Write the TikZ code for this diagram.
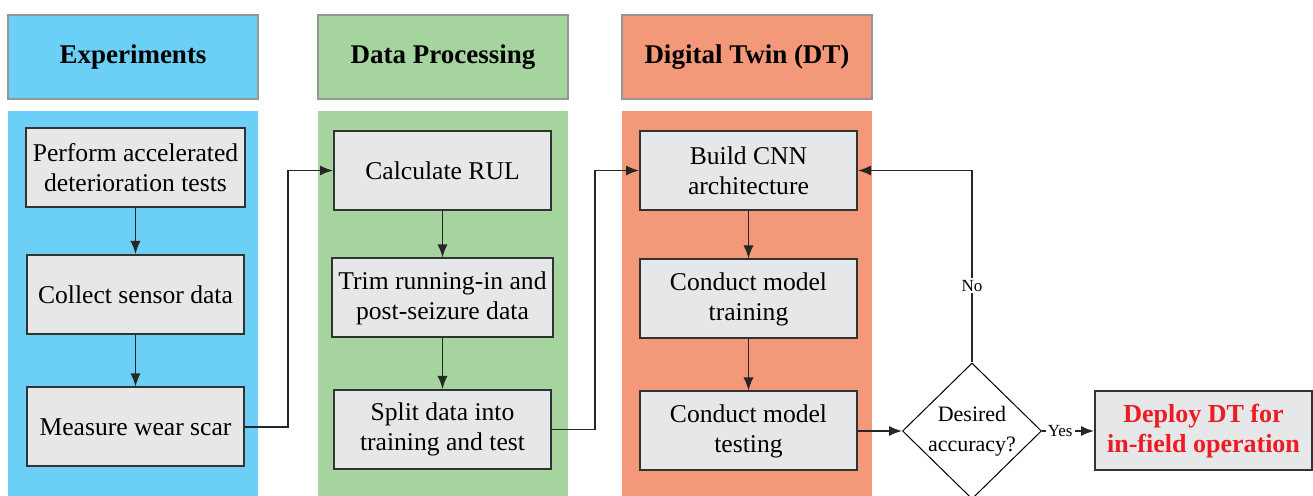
\documentclass[tikz,border=0pt]{standalone}
\usepackage{fontspec}
\setmainfont{Liberation Serif}
\usetikzlibrary{shapes.geometric,arrows.meta}
\definecolor{expblue}{RGB}{108,207,246}
\definecolor{procgreen}{RGB}{166,212,159}
\definecolor{twinsalmon}{RGB}{244,152,122}
\definecolor{boxgray}{RGB}{230,231,232}
\definecolor{headgray}{RGB}{150,150,150}
\definecolor{boxedge}{RGB}{50,50,50}
\definecolor{deployred}{RGB}{237,28,36}
\begin{document}
\begin{tikzpicture}[x=0.5pt,y=-0.5pt,
    head/.style={draw=headgray,line width=1pt,minimum width=125pt,minimum height=42pt,
      font=\fontsize{13.5}{16}\selectfont\bfseries},
    task/.style={draw=boxedge,fill=boxgray,line width=1pt,minimum width=108.5pt,
      minimum height=39.5pt,align=center,font=\fontsize{12.8}{15}\selectfont},
    flow/.style={-{Latex[length=6.5pt,width=5pt]},line width=0.7pt,draw=black!85},
    tag/.style={fill=white,inner sep=1pt,font=\fontsize{8.5}{10}\selectfont}]
  \useasboundingbox (0,0) rectangle (1313,496);
  % column backgrounds
  \fill[expblue] (8,111) rectangle (258,496);
  \fill[procgreen] (318,111) rectangle (568,496);
  \fill[twinsalmon] (622,111) rectangle (872,496);
  % headers
  \node[head,fill=expblue] (hexp) at (133,57) {Experiments};
  \node[head,fill=procgreen] (hproc) at (443,57) {Data Processing};
  \node[head,fill=twinsalmon] (htwin) at (747,57) {Digital Twin (DT)};
  % experiments
  \node[task] (exp1) at (135.5,167.5) {Perform accelerated\\deterioration tests};
  \node[task] (exp2) at (135.5,294.5) {Collect sensor data};
  \node[task] (exp3) at (135.5,427) {Measure wear scar};
  % data processing
  \node[task] (proc1) at (442.5,170.5) {Calculate RUL};
  \node[task] (proc2) at (442.5,298) {Trim running-in and\\post-seizure data};
  \node[task] (proc3) at (442.5,429.5) {Split data into\\training and test};
  % digital twin
  \node[task] (twin1) at (748.5,170.5) {Build CNN\\architecture};
  \node[task] (twin2) at (748.5,299) {Conduct model\\training};
  \node[task] (twin3) at (748.5,431) {Conduct model\\testing};
  \node[diamond,draw,line width=0.5pt,inner sep=0pt,minimum width=69.5pt,minimum height=68pt,
    label={[align=center,font=\fontsize{11}{15}\selectfont]center:Desired\\accuracy?}]
    (acc) at (972,431) {};
  \node[task,font=\fontsize{13}{15}\selectfont\bfseries,text=deployred] (deploy) at (1203.5,431)
    {Deploy DT for\\in-field operation};
  % connectors
  \draw[flow] (exp1) -- (exp2);
  \draw[flow] (exp2) -- (exp3);
  \draw[flow] (proc1) -- (proc2);
  \draw[flow] (proc2) -- (proc3);
  \draw[flow] (twin1) -- (twin2);
  \draw[flow] (twin2) -- (twin3);
  \draw[flow] (exp3.east) -- ++(43,0) |- (proc1.west);
  \draw[flow] (proc3.east) -- ++(43,0) |- (twin1.west);
  \draw[flow] (twin3.east) -- (acc.west);
  \draw[flow] (acc.north) |- node[tag,pos=0.2] {No} (twin1.east);
  \draw[flow] (acc.east) -- node[tag,pos=0.35] {Yes} (deploy.west);
\end{tikzpicture}
\end{document}
